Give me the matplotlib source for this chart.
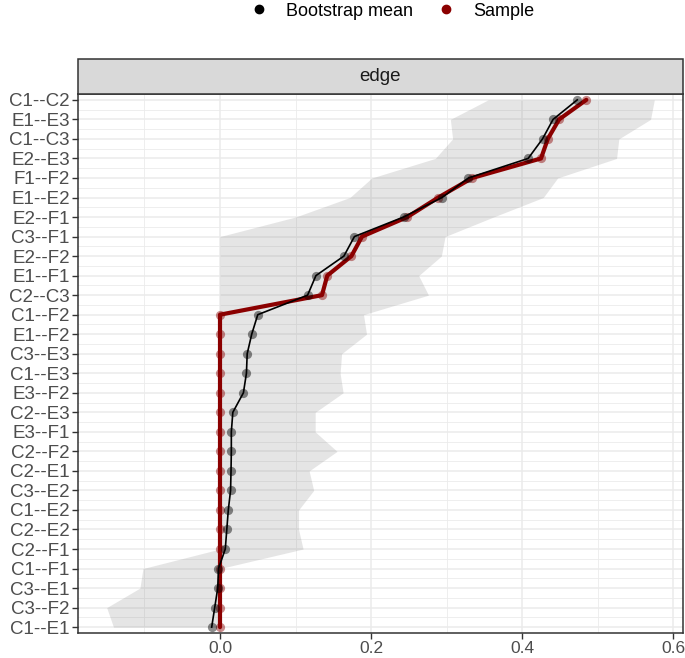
import numpy as np
import matplotlib
matplotlib.use('Agg')
import matplotlib.pyplot as plt
from matplotlib.lines import Line2D
from matplotlib.patches import Rectangle

plt.rcParams['font.family'] = ['Liberation Sans', 'DejaVu Sans']

edges = ["C1--C2", "E1--E3", "C1--C3", "E2--E3", "F1--F2", "E1--E2", "E2--F1",
         "C3--F1", "E2--F2", "E1--F1", "C2--C3", "C1--F2", "E1--F2", "C3--E3",
         "C1--E3", "E3--F2", "C2--E3", "E3--F1", "C2--F2", "C2--E1", "C3--E2",
         "C1--E2", "C2--E2", "C2--F1", "C1--F1", "C3--E1", "C3--F2", "C1--E1"]

boot_mean = [0.473, 0.441, 0.427, 0.408, 0.329, 0.294, 0.243, 0.178, 0.164,
             0.127, 0.116, 0.050, 0.042, 0.036, 0.035, 0.031, 0.017, 0.015,
             0.015, 0.0146, 0.014, 0.011, 0.009, 0.007, -0.002, -0.003,
             -0.007, -0.011]

sample = [0.485, 0.449, 0.434, 0.425, 0.334, 0.289, 0.248, 0.188, 0.174,
          0.142, 0.135, 0.0, 0.0, 0.0, 0.0, 0.0, 0.0, 0.0, 0.0, 0.0, 0.0,
          0.0, 0.0, 0.0, 0.0, 0.0, 0.0, 0.0]

ci_lower = [0.355, 0.305, 0.308, 0.285, 0.201, 0.172, 0.100, 0.0, 0.0, 0.0,
            0.0, 0.0, 0.0, 0.0, 0.0, 0.0, 0.0, 0.0, 0.0, 0.0, 0.0, 0.0, 0.0,
            0.0, -0.102, -0.106, -0.150, -0.141]

ci_upper = [0.575, 0.570, 0.528, 0.525, 0.447, 0.428, 0.362, 0.298, 0.293,
            0.263, 0.276, 0.190, 0.194, 0.161, 0.159, 0.163, 0.126, 0.126,
            0.155, 0.118, 0.124, 0.104, 0.104, 0.110, 0.0, 0.0, 0.0, 0.0]

x_ticks = [0.0, 0.2, 0.4, 0.6]
x_tick_labels = ["0.0", "0.2", "0.4", "0.6"]
facet_label = "edge"
legend_labels = ["Bootstrap mean", "Sample"]

W, H = 685, 658
fig = plt.figure(figsize=(W / 100, H / 100), dpi=100)
L, R, T, B = 78, 683, 94, 633
ax = fig.add_axes([L / W, 1 - B / H, (R - L) / W, (B - T) / H])

n = len(edges)
y = np.arange(n)

ax.fill_betweenx(y, ci_lower, ci_upper, color='#7f7f7f', alpha=0.2, lw=0, zorder=2)
ax.plot(sample, y, color='#8B0000', lw=3.0, zorder=3, solid_joinstyle='round',
        solid_capstyle='round')
ax.scatter(sample, y, s=44, color='#8B0000', alpha=0.45, lw=0, zorder=4)
ax.plot(boot_mean, y, color='black', lw=1.2, zorder=5)
ax.scatter(boot_mean, y, s=44, color='black', alpha=0.45, lw=0, zorder=6)

ax.set_xlim(-0.188, 0.613)
ax.set_ylim(n - 1 + 0.3, -0.3)

ax.set_xticks(x_ticks)
ax.set_xticklabels(x_tick_labels)
ax.set_xticks([-0.1, 0.1, 0.3, 0.5], minor=True)
ax.set_yticks(y)
ax.set_yticklabels(edges)
ax.set_yticks(np.arange(0.5, n - 1, 1.0), minor=True)

ax.grid(True, which='major', color='#EBEBEB', lw=1.1, zorder=0)
ax.grid(True, which='minor', color='#EBEBEB', lw=0.6, zorder=0)
ax.set_axisbelow(True)

ax.tick_params(axis='both', which='major', length=4, width=1.0, color='#333333',
               labelcolor='#4D4D4D', labelsize=12.5, pad=2)
ax.tick_params(axis='y', which='major', labelsize=13.5)
ax.tick_params(axis='both', which='minor', length=0)
for s in ax.spines.values():
    s.set_color('#333333')
    s.set_linewidth(1.1)

# facet strip
strip = Rectangle((L / W, 1 - T / H), (R - L) / W, (T - 59) / H,
                  transform=fig.transFigure, facecolor='#D9D9D9',
                  edgecolor='#333333', lw=1.1, zorder=1)
fig.patches.append(strip)
fig.text((L + R) / 2 / W, 1 - (T + 59) / 2 / H, facet_label, ha='center',
         va='center', fontsize=13.5, color='#1A1A1A')

handles = [Line2D([], [], ls='none', marker='o', ms=6, color='black'),
           Line2D([], [], ls='none', marker='o', ms=6, color='#8B0000')]
fig.legend(handles, legend_labels, loc='center', bbox_to_anchor=(392 / W, 1 - 11 / H),
           ncol=2, frameon=False, fontsize=13, handletextpad=1.0,
           columnspacing=1.3, handlelength=1.0, borderpad=0)

fig.savefig('out.png', dpi=100)
